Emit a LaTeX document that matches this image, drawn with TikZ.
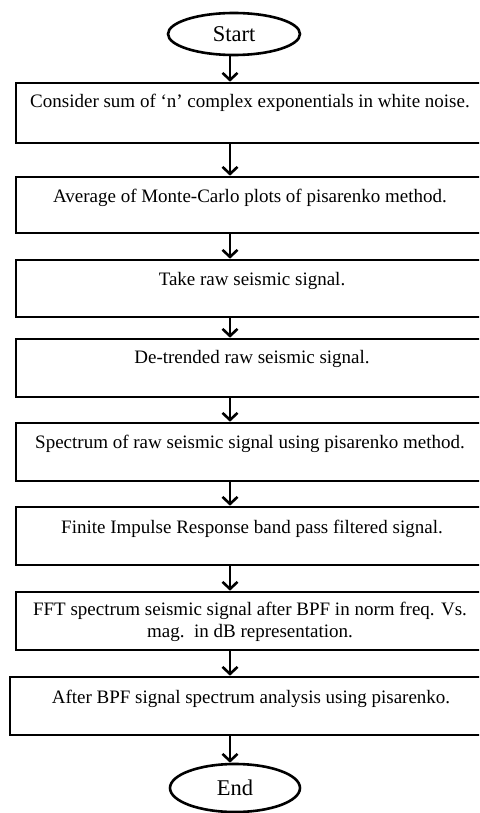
\documentclass[tikz,border=0pt]{standalone}
\usepackage{fontspec}
\setmainfont{Liberation Serif}
\usetikzlibrary{arrows.meta,shapes.geometric}
\tikzset{
  box/.style={draw=black, line width=2.6pt, rectangle, inner sep=0pt, minimum width=468pt, minimum height=58pt},
  term/.style={draw=black, line width=2.6pt, ellipse, inner sep=0pt, font=\fontsize{22.5}{26}\selectfont},
  txt/.style={anchor=base, inner sep=0pt, font=\fontsize{19}{21}\selectfont, align=center},
  arr/.style={line width=2.6pt, -{Straight Barb[length=7pt,width=15pt,line width=2.6pt]}}
}
\begin{document}
\begin{tikzpicture}[x=1pt,y=-1pt]
\clip (0,0) rectangle (479,813);
\fill[white] (0,0) rectangle (479,813);
\node[term, minimum width=132pt, minimum height=42pt] (s) at (234,34) {Start};
\node[box, minimum height=60pt] (b1) at (250,113) {};
\node[box, minimum height=56pt] (b2) at (250,205) {};
\node[box, minimum height=57pt] (b3) at (250,288.5) {};
\node[box, minimum height=58pt] (b4) at (250,368) {};
\node[box, minimum height=58pt] (b5) at (250,452) {};
\node[box, minimum height=58pt] (b6) at (250,536) {};
\node[box, minimum height=58pt] (b7) at (250,621) {};
\node[box, minimum width=480pt, minimum height=58pt] (b8) at (250,706) {};
\node[term, minimum width=130pt, minimum height=48pt] (e) at (235,788) {End};
\node[txt] (t1) at (250,108) {Consider sum of ‘n’ complex exponentials in white noise.};
\node[txt] (t2) at (250,202) {Average of Monte-Carlo plots of pisarenko method.};
\node[txt] (t3) at (252,285) {Take raw seismic signal.};
\node[txt] (t4) at (252,363) {De-trended raw seismic signal.};
\node[txt] (t5) at (250,448) {Spectrum of raw seismic signal using pisarenko method.};
\node[txt] (t6) at (252,533) {Finite Impulse Response band pass filtered signal.};
\node[txt] (t7a) at (250,615) {FFT spectrum seismic signal after BPF in norm freq. Vs.};
\node[txt] (t7b) at (250,637) {mag.\ \ in dB representation.};
\node[txt] (t8) at (251,703) {After BPF signal spectrum analysis using pisarenko.};
\coordinate (ax) at (230,0);
\draw[arr] (s.south -| ax) -- (b1.north -| ax);
\draw[arr] (b1.south -| ax) -- (b2.north -| ax);
\draw[arr] (b2.south -| ax) -- (b3.north -| ax);
\draw[arr] (b3.south -| ax) -- (b4.north -| ax);
\draw[arr] (b4.south -| ax) -- (b5.north -| ax);
\draw[arr] (b5.south -| ax) -- (b6.north -| ax);
\draw[arr] (b6.south -| ax) -- (b7.north -| ax);
\draw[arr] (b7.south -| ax) -- (b8.north -| ax);
\draw[arr] (b8.south -| ax) -- (e.north -| ax);
\end{tikzpicture}
\end{document}
